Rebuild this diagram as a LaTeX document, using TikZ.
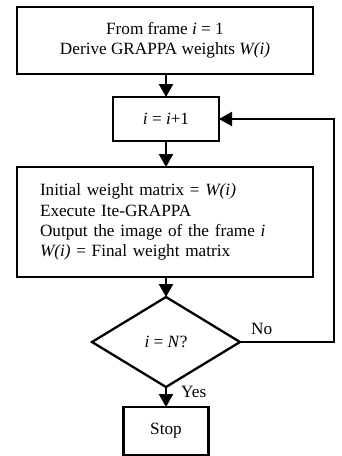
\documentclass[tikz,border=0pt]{standalone}
\usepackage{fontspec}
\setmainfont{Liberation Serif}
\usetikzlibrary{arrows.meta,shapes.geometric}
\begin{document}
\begin{tikzpicture}[x=1pt,y=-1pt,
  every node/.style={font=\fontsize{17.2}{20.2}\selectfont},
  box/.style={draw,line width=2.3pt,inner sep=0pt,outer sep=0pt,align=center},
  dia/.style={draw,diamond,line width=2.3pt,inner sep=0pt,outer sep=0pt},
  conn/.style={line width=2.3pt,-{Triangle[width=14pt,length=13pt]}},
  lbl/.style={inner sep=0pt}]
\useasboundingbox (0,0) rectangle (341,456);
\node[box,minimum width=296pt,minimum height=67pt] (start) at (165,40.5)
  {From frame \textit{i} = 1\\Derive GRAPPA weights \textit{W(i)}};
\node[box,minimum width=106pt,minimum height=44pt] (inc) at (166,119)
  {\textit{i} = \textit{i}+1};
\node[box,minimum width=296pt,minimum height=110pt,text width=250pt,align=left] (proc) at (165,222)
  {Initial weight matrix = \textit{W(i)}\\Execute Ite-GRAPPA\\Output the image of the frame \textit{i}\\\textit{W(i)} = Final weight matrix};
\node[dia,minimum width=148pt,minimum height=90pt] (dec) at (166,342)
  {\textit{i} = \textit{N}?};
\node[box,minimum width=85pt,minimum height=48pt] (stop) at (166,431) {Stop};
\coordinate (c1) at (334,342);
\coordinate (c2) at (334,119);
\draw[conn] (start.south -| inc.north) -- (inc.north);
\draw[conn] (inc.south) -- (inc.south |- proc.north);
\draw[conn] (proc.south -| dec.north) -- (dec.north);
\draw[conn] (dec.south) -- (stop.north);
\draw[conn,line join=miter] (dec.east) -- (c1) -- (c2) -- (inc.east);
\node[lbl,anchor=base west] (no) at (251,334) {No};
\node[lbl,anchor=base west] (yes) at (181,397) {Yes};
\end{tikzpicture}
\end{document}
